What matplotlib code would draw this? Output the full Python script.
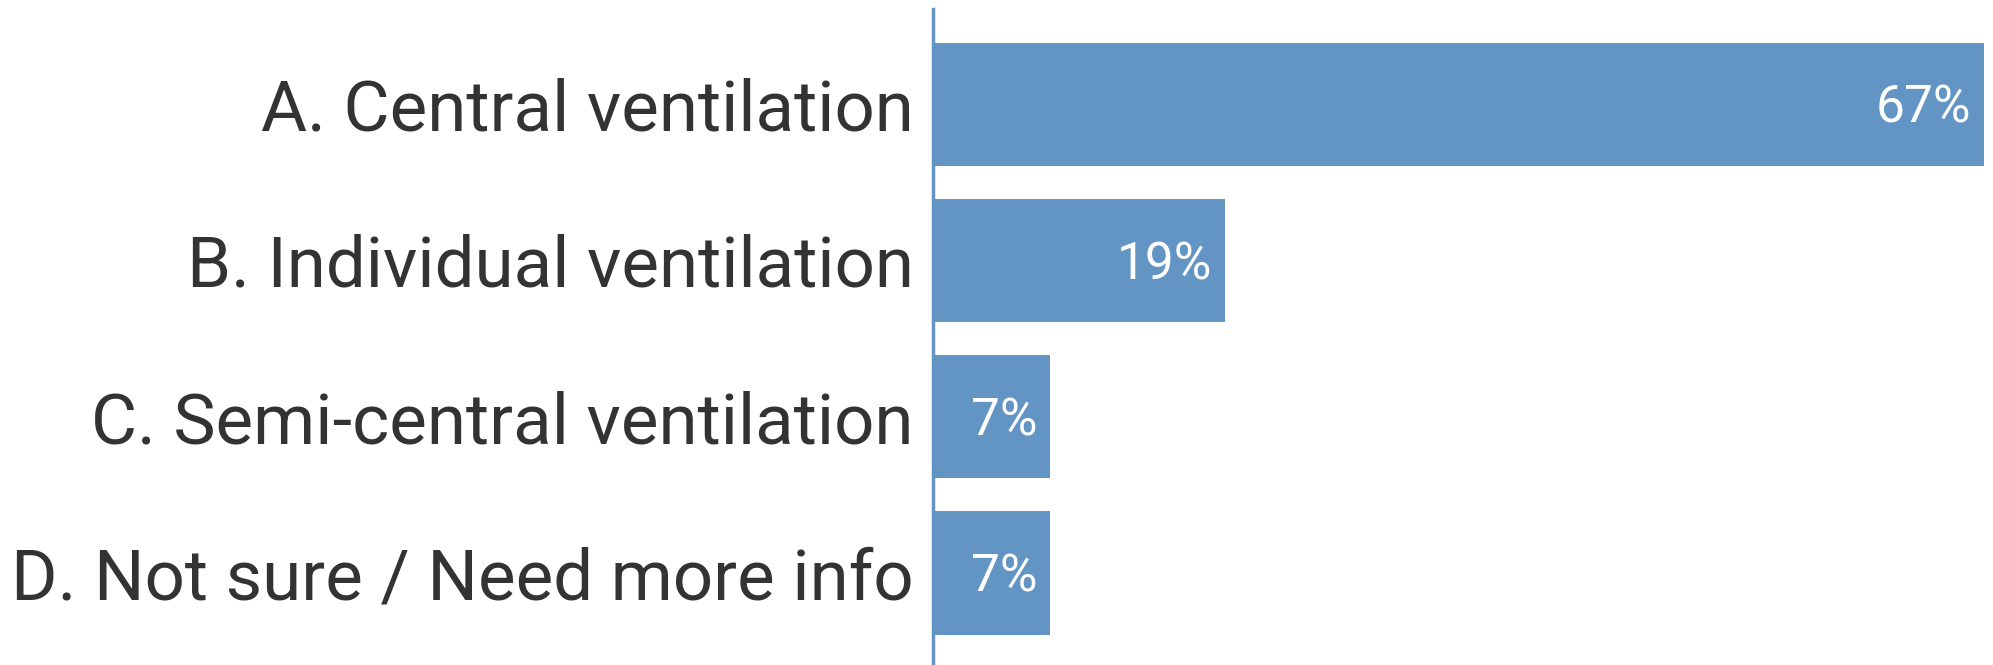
import matplotlib.pyplot as plt

categories = ['A. Central ventilation', 'B. Individual ventilation',
              'C. Semi-central ventilation', 'D. Not sure / Need more info']
counts = [18, 5, 2, 2]
total = sum(counts)
shares = [100 * c / total for c in counts]
labels = ['%d%%' % round(s) for s in shares]

bar_color = '#6294c4'

fig = plt.figure(figsize=(19.93, 6.65), dpi=100)
ax = fig.add_axes([933 / 1993, 0, 1051 / 1993, 656 / 665])

ypos = list(range(len(categories)))
ax.barh(ypos, shares, height=0.79, color=bar_color)

ax.set_xlim(0, max(shares))
ax.set_ylim(3.59, -0.61)
ax.set_yticks(ypos)
ax.set_yticklabels(categories, fontsize=51, color='#333333', family='Roboto')
ax.tick_params(axis='y', length=0, pad=14)
ax.set_xticks([])

for s in ['top', 'right', 'bottom']:
    ax.spines[s].set_visible(False)
ax.spines['left'].set_color(bar_color)
ax.spines['left'].set_linewidth(2.5)

for y, s, lab in zip(ypos, shares, labels):
    ax.text(s - 0.8, y + 0.03, lab, ha='right', va='center', color='white',
            fontsize=37, family='Roboto')

fig.savefig('out.png', dpi=100)
